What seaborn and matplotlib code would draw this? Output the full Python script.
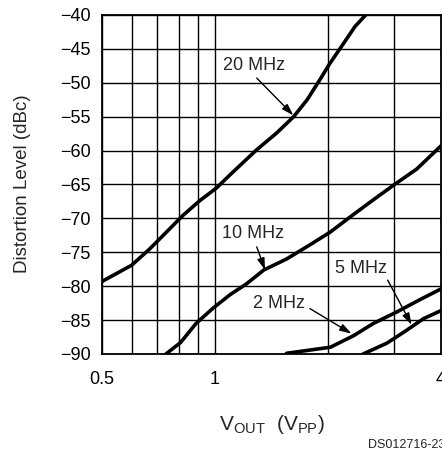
import matplotlib
matplotlib.use("Agg")
import matplotlib.pyplot as plt
import seaborn as sns
import pandas as pd

# Distortion vs. output swing, one curve per signal frequency
vout_20mhz = [0.5, 0.6, 0.67, 0.74, 0.82, 0.91, 1.01, 1.1, 1.29, 1.46, 1.62, 1.76, 1.9, 2.02, 2.2, 2.36, 2.52]
dist_20mhz = [-79.3, -76.9, -74.5, -72.1, -69.6, -67.4, -65.5, -63.5, -59.9, -57.4, -55.0, -52.5, -49.6, -47.2, -44.2, -41.7, -40.0]

vout_10mhz = [0.74, 0.81, 0.89, 0.99, 1.1, 1.21, 1.35, 1.55, 1.79, 2.03, 2.29, 2.59, 2.99, 3.45, 4.0]
dist_10mhz = [-90.0, -88.3, -85.5, -83.2, -81.2, -79.7, -77.6, -76.0, -73.9, -72.0, -69.8, -67.6, -65.1, -62.7, -59.3]

vout_5mhz = [2.48, 2.87, 3.24, 3.59, 4.0]
dist_5mhz = [-90.0, -88.4, -86.5, -84.8, -83.6]

vout_2mhz = [1.55, 2.03, 2.34, 2.64, 3.05, 3.51, 4.0]
dist_2mhz = [-89.9, -89.0, -87.3, -85.5, -83.8, -82.0, -80.4]

x_ticks = [0.5, 0.6, 0.7, 0.8, 0.9, 1, 2, 3, 4]
x_tick_labels = ["0.5", "", "", "", "", "1", "", "", "4"]
y_ticks = [-90, -85, -80, -75, -70, -65, -60, -55, -50, -45, -40]

# curve labels: (text, text position, arrow tail, arrow tip)
labels = [
    ("20 MHz", (1.274, -47.4), (1.292, -49.3), (1.617, -54.8)),
    ("10 MHz", (1.262, -72.2), (1.292, -74.2), (1.359, -77.6)),
    ("2 MHz", (1.481, -82.5), (1.79, -83.3), (2.31, -87.0)),
    ("5 MHz", (2.453, -77.4), (2.884, -79.1), (3.34, -85.7)),
]

sns.set_style("white")
plt.rcParams["font.family"] = ["Liberation Sans", "DejaVu Sans"]
plt.rcParams["mathtext.fontset"] = "custom"
plt.rcParams["mathtext.rm"] = "Liberation Sans"
plt.rcParams["mathtext.it"] = "Liberation Sans"

frames = []
for name, xs, ys in [("20 MHz", vout_20mhz, dist_20mhz),
                     ("10 MHz", vout_10mhz, dist_10mhz),
                     ("5 MHz", vout_5mhz, dist_5mhz),
                     ("2 MHz", vout_2mhz, dist_2mhz)]:
    frames.append(pd.DataFrame({"vout": xs, "dist": ys, "freq": name}))
df = pd.concat(frames, ignore_index=True)

fig = plt.figure(figsize=(4.42, 4.54), dpi=100)
ax = fig.add_axes([102 / 442, 100 / 454, 339 / 442, 339 / 454])

sns.lineplot(data=df, x="vout", y="dist", units="freq", estimator=None,
             sort=False, color="black", lw=2.6, ax=ax, legend=False,
             zorder=3, solid_joinstyle="round", solid_capstyle="round")

ax.set_xscale("log")
ax.set_xlim(0.5, 4)
ax.set_ylim(-90, -40)
ax.set_xticks(x_ticks)
ax.set_xticklabels(x_tick_labels)
ax.minorticks_off()
ax.set_yticks(y_ticks)
ax.tick_params(axis="both", length=0, labelsize=13, colors="black")
ax.tick_params(axis="y", pad=8)
ax.tick_params(axis="x", pad=12)
ax.grid(True, color="black", lw=1.0)
for sp in ax.spines.values():
    sp.set_visible(True)
    sp.set_color("black")
    sp.set_linewidth(1.3)
ax.set_xlabel("")
ax.set_ylabel("")

for text, tpos, tail, tip in labels:
    ax.text(tpos[0], tpos[1], text, ha="center", va="center", fontsize=13,
            zorder=4)
    ax.annotate("", xy=tip, xytext=tail,
                arrowprops=dict(arrowstyle="-|>,head_length=0.7,head_width=0.22",
                                color="black", lw=1.0, shrinkA=0, shrinkB=0),
                zorder=4)

fig.text(23 / 442, 1 - 184 / 454, "Distortion Level (dBc)", rotation=90,
         ha="center", va="center", fontsize=13.5)
fig.text(272 / 442, 1 - 430 / 454, r"$\mathregular{V_{OUT}\ \ (V_{PP})}$",
         ha="center", va="baseline", fontsize=15)
fig.text(368 / 442, 1 - 445 / 454, "DS012716-23", ha="left", va="center",
         fontsize=9)

fig.savefig("out.png", dpi=100)
